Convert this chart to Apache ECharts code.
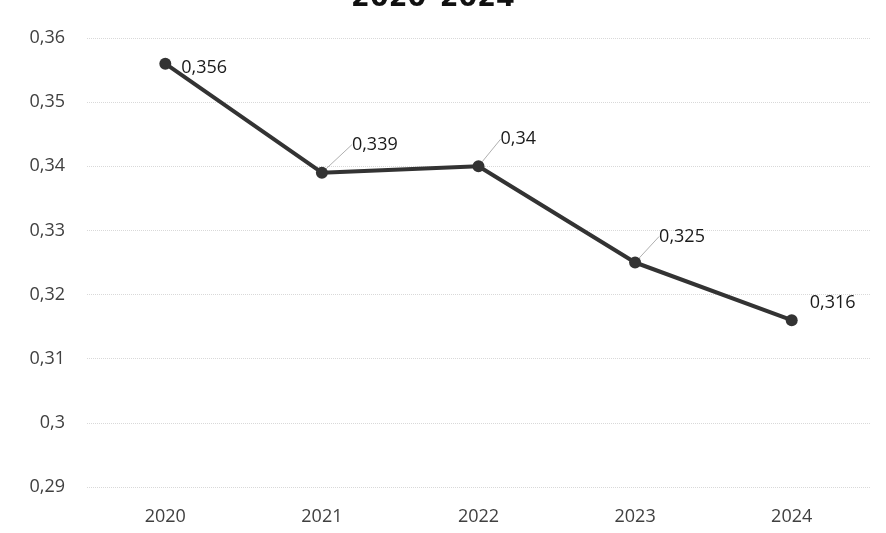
<!DOCTYPE html>
<html><head><meta charset="utf-8">
<script src="https://cdn.jsdelivr.net/npm/echarts@6/dist/echarts.min.js"></script>
<style>html,body{margin:0;padding:0;background:#fff}#c{width:886px;height:533px}</style>
</head><body><div id="c"></div>
<script>
const categories = ['2020','2021','2022','2023','2024'];
const values = [0.356, 0.339, 0.34, 0.325, 0.316];
const yMin = 0.29, yMax = 0.36, yStep = 0.01;
const titleText = '2020–2024';

const fmt = v => String(+v.toFixed(3)).replace('.', ',');
const labelOffsets = [
  {dx: 6, dy: 4, line: false},
  {dx: 20, dy: -28, line: true},
  {dx: 12, dy: -27, line: true},
  {dx: 14, dy: -26, line: true},
  {dx: 8, dy: -17, line: false}
];

const chart = echarts.init(document.getElementById('c'));
chart.setOption({
  animation: false,
  backgroundColor: '#fff',
  title: {
    text: titleText, left: 428, top: -20, textAlign: 'center',
    textStyle: {fontFamily: 'DejaVu Sans', fontWeight: 900, fontSize: 27, color: '#111'}
  },
  grid: {left: 87, right: 16, top: 38, bottom: 46},
  xAxis: {
    type: 'category', data: categories, boundaryGap: true,
    axisLine: {show: false}, axisTick: {show: false},
    axisLabel: {color: '#404040', fontSize: 18, fontFamily: 'Open Sans', margin: 21}
  },
  yAxis: {
    type: 'value', min: yMin, max: yMax, interval: yStep,
    axisLine: {show: false}, axisTick: {show: false},
    axisLabel: {color: '#404040', fontSize: 18, fontFamily: 'Open Sans', margin: 22,
      formatter: v => fmt(v)},
    splitLine: {lineStyle: {color: '#d9d9d9', width: 1, type: 'dotted'}}
  },
  series: [{
    type: 'line',
    data: values.map((v, i) => ({
      value: v,
      label: {show: true},
      labelLine: {show: labelOffsets[i].line}
    })),
    symbol: 'circle', symbolSize: 12,
    lineStyle: {color: '#333', width: 4},
    itemStyle: {color: '#333'},
    label: {
      show: true, position: 'right', distance: 4,
      color: '#1a1a1a', fontSize: 18, fontFamily: 'Open Sans',
      formatter: p => fmt(p.value)
    },
    labelLine: {show: true, lineStyle: {color: '#b0b0b0', width: 1}},
    labelLayout: p => {
      const o = labelOffsets[p.dataIndex];
      return {dx: o.dx, dy: o.dy};
    }
  }]
});
</script>
</body></html>
